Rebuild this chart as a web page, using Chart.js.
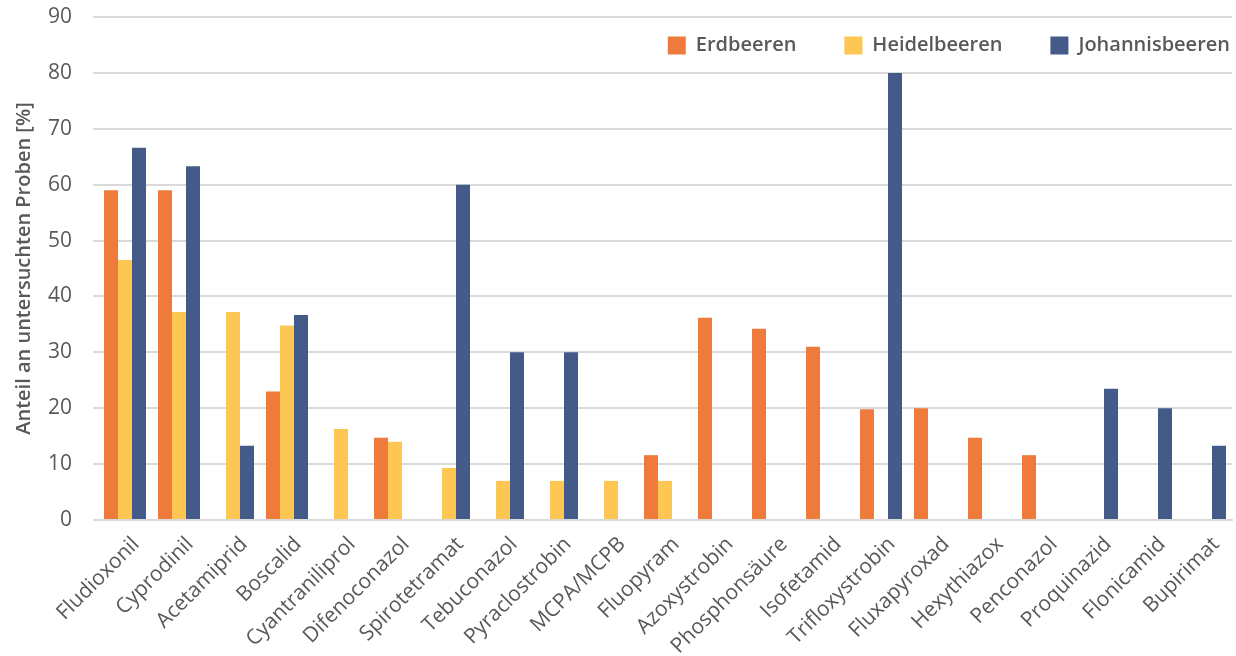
<!DOCTYPE html>
<html>
<head>
<meta charset="utf-8">
<script src="https://cdn.jsdelivr.net/npm/chart.js@4.4.1/dist/chart.umd.min.js"></script>
<style>
  html, body { margin: 0; padding: 0; background: #ffffff; }
  #wrap { width: 1236px; height: 656px; }
</style>
</head>
<body>
<div id="wrap"><canvas id="residueChart" width="1236" height="656"></canvas></div>
<script>
// Categories (active substances)
const wirkstoffe = ['Fludioxonil', 'Cyprodinil', 'Acetamiprid', 'Boscalid', 'Cyantraniliprol',
  'Difenoconazol', 'Spirotetramat', 'Tebuconazol', 'Pyraclostrobin', 'MCPA/MCPB', 'Fluopyram',
  'Azoxystrobin', 'Phosphonsäure', 'Isofetamid', 'Trifloxystrobin', 'Fluxapyroxad', 'Hexythiazox',
  'Penconazol', 'Proquinazid', 'Flonicamid', 'Bupirimat'];

// Share of samples [%] per berry type (null = no bar)
const erdbeeren = [59, 59, null, 23, null, 14.7, null, null, null, null, 11.6,
  36.2, 34.2, 31, 19.8, 20, 14.7, 11.6, null, null, null];
const heidelbeeren = [46.5, 37.2, 37.2, 34.8, 16.3, 14, 9.3, 7, 7, 7, 7,
  null, null, null, null, null, null, null, null, null, null];
const johannisbeeren = [66.6, 63.3, 13.3, 36.7, null, null, 60, 30, 30, null, null,
  null, null, null, 80, null, null, null, 23.5, 20, 13.3];

const yTicks = [0, 10, 20, 30, 40, 50, 60, 70, 80, 90];

const textColor = '#595959';
const gridColor = '#d9d9d9';
const fontFamily = '"Open Sans", sans-serif';

// keep the legend inside the plot (top right) without taking space from it
const legendInPlot = {
  id: 'legendInPlot',
  beforeLayout(chart) {
    const lg = chart.legend;
    if (!lg || lg._inPlot) return;
    lg._inPlot = true;
    const fit = lg.fit.bind(lg);
    lg.fit = function () { fit(); this.height = 0; };
    lg.draw = function () { this._draw(); };
  },
  afterLayout(chart) {
    const lg = chart.legend;
    const pad = lg.options.labels.padding;
    lg.top = 35.5 - pad;
    lg.right = 1230 + pad;
  }
};

const ctx = document.getElementById('residueChart').getContext('2d');

new Chart(ctx, {
  type: 'bar',
  data: {
    labels: wirkstoffe,
    datasets: [
      { label: 'Erdbeeren', data: erdbeeren, backgroundColor: '#ee7a3c' },
      { label: 'Heidelbeeren', data: heidelbeeren, backgroundColor: '#fec652' },
      { label: 'Johannisbeeren', data: johannisbeeren, backgroundColor: '#445b8a' }
    ]
  },
  plugins: [legendInPlot],
  options: {
    responsive: false,
    animation: false,
    datasets: {
      bar: { categoryPercentage: 0.778, barPercentage: 1.0, skipNull: false }
    },
    layout: { padding: { top: 0, right: 4, left: 0, bottom: 0 } },
    plugins: {
      tooltip: { enabled: false },
      legend: {
        position: 'top',
        align: 'end',
        labels: {
          color: textColor,
          boxWidth: 18,
          boxHeight: 18,
          padding: 48,
          font: { family: fontFamily, size: 20, weight: '600' }
        }
      }
    },
    scales: {
      x: {
        afterFit: axis => { axis.height = 136; },
        grid: { display: false, drawTicks: false },
        border: { display: true, color: gridColor, width: 2 },
        ticks: {
          color: textColor,
          autoSkip: false,
          maxRotation: 45,
          minRotation: 45,
          padding: 12,
          labelOffset: 11,
          font: { family: fontFamily, size: 21 }
        }
      },
      y: {
        min: 0,
        max: 90,
        afterBuildTicks: axis => { axis.ticks = yTicks.map(v => ({ value: v })); },
        afterFit: axis => { axis.width = 98; axis.paddingTop = 17; },
        grid: { color: gridColor, lineWidth: 2, drawTicks: true, tickLength: 5 },
        border: { display: false },
        title: {
          display: true,
          text: 'Anteil an untersuchten Proben [%]',
          color: textColor,
          padding: { top: 12, bottom: 4 },
          font: { family: fontFamily, size: 20, weight: '600' }
        },
        ticks: {
          color: textColor,
          padding: 21,
          font: { family: fontFamily, size: 21 }
        }
      }
    }
  }
});
</script>
</body>
</html>
